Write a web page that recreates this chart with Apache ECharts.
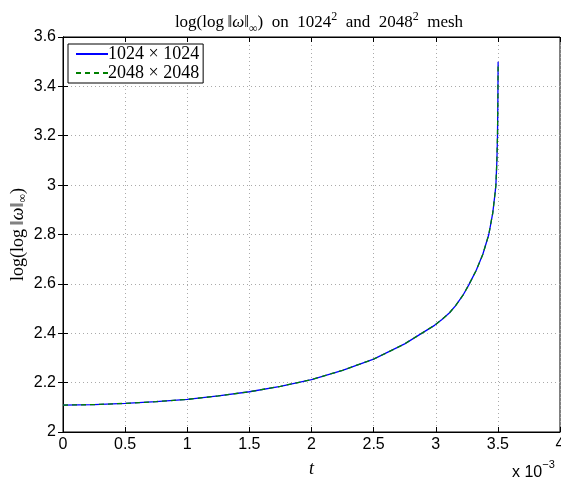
<!DOCTYPE html>
<html>
<head>
<meta charset="utf-8">
<script src="https://cdn.jsdelivr.net/npm/echarts@6/dist/echarts.min.js"></script>
<style>html,body{margin:0;padding:0;background:#fff;}#c{width:561px;height:482px;}</style>
</head>
<body>
<div id="c"></div>
<script>
// t in units of 1e-3
var tValues = [0, 0.25, 0.5, 0.75, 1.0, 1.25, 1.5, 1.75, 2.0, 2.25, 2.5, 2.75, 2.99, 3.05, 3.111, 3.16, 3.218, 3.265, 3.326, 3.379, 3.427, 3.459, 3.478, 3.484, 3.492, 3.497, 3.5, 3.502];
var mesh1024 = [2.109, 2.111, 2.116, 2.123, 2.132, 2.146, 2.163, 2.185, 2.212, 2.25, 2.295, 2.357, 2.432, 2.456, 2.483, 2.512, 2.553, 2.595, 2.655, 2.72, 2.80, 2.888, 2.97, 3.00, 3.10, 3.20, 3.35, 3.50];
var mesh2048 = [2.109, 2.111, 2.116, 2.123, 2.132, 2.146, 2.163, 2.185, 2.212, 2.25, 2.295, 2.357, 2.432, 2.456, 2.483, 2.512, 2.553, 2.595, 2.655, 2.72, 2.80, 2.888, 2.97, 3.00, 3.10, 3.20, 3.35, 3.49];
var seriesNames = ['1024 × 1024', '2048 × 2048'];

function pairs(xs, ys) { return xs.map(function (x, i) { return [x, ys[i]]; }); }

var chart = echarts.init(document.getElementById('c'), null, {renderer: 'canvas'});
var serif = 'Liberation Serif';
var sans = 'Liberation Sans';
var gridStyle = {show: true, lineStyle: {color: '#aaa', type: [1, 3], width: 1}};
function txt(size, extra) {
  var o = {fontFamily: serif, fontSize: size, color: '#000', fontWeight: 'normal'};
  for (var k in extra) o[k] = extra[k];
  return o;
}
chart.setOption({
  animation: false,
  backgroundColor: '#fff',
  title: {
    text: '{a|log(log\u2009‖}{i|ω}{a|‖}{sub|∞}{a|)  on  1024}{sup|2}{a|  and  2048}{sup|2}{a|  mesh}',
    left: 314, textAlign: 'center', top: 6,
    textStyle: {
      fontWeight: 'normal',
      rich: {
        a: txt(17, {lineHeight: 24}),
        i: txt(17, {fontStyle: 'italic', lineHeight: 24}),
        sub: txt(12, {verticalAlign: 'bottom', lineHeight: 24}),
        sup: txt(12, {verticalAlign: 'top', lineHeight: 24})
      }
    }
  },
  legend: {
    left: 68, top: 44, orient: 'vertical',
    data: seriesNames,
    itemWidth: 32, itemHeight: 10, itemGap: 1,
    padding: [1, 4, 1, 7],
    borderColor: '#000', borderWidth: 1, borderRadius: 0,
    backgroundColor: '#fff',
    itemStyle: {opacity: 0},
    textStyle: {fontFamily: serif, fontSize: 18, color: '#000', lineHeight: 12, padding: [0, 0, 0, -5]}
  },
  grid: {left: 63, right: 1, top: 37, bottom: 50, show: true, borderColor: '#000', borderWidth: 1,
         containLabel: false, outerBoundsMode: 'none'},
  xAxis: [{
    type: 'value', min: 0, max: 4, interval: 0.5,
    axisLine: {show: true, lineStyle: {color: '#000', width: 1}},
    axisTick: {show: true, inside: true, length: 5, lineStyle: {color: '#000'}},
    axisLabel: {fontFamily: sans, fontSize: 16, color: '#000', margin: 5},
    splitLine: gridStyle,
    name: 't', nameLocation: 'middle', nameGap: 28, nameMoveOverlap: false,
    nameTextStyle: {fontFamily: serif, fontStyle: 'italic', fontSize: 18, color: '#000'}
  }, {
    type: 'value', min: 0, max: 4, interval: 0.5, position: 'top',
    axisLine: {show: true, lineStyle: {color: '#000'}},
    axisTick: {show: true, inside: true, length: 5, lineStyle: {color: '#000'}},
    axisLabel: {show: false}, splitLine: {show: false}
  }],
  yAxis: [{
    type: 'value', min: 2, max: 3.6, interval: 0.2,
    axisLine: {show: true, lineStyle: {color: '#000', width: 1}},
    axisTick: {show: true, inside: true, length: 5, lineStyle: {color: '#000'}},
    axisLabel: {fontFamily: sans, fontSize: 16, color: '#000', margin: 7,
      formatter: function (v) { return String(Math.round(v * 10) / 10); }},
    splitLine: gridStyle,
    name: '{a|log(log\u2009‖}{i|ω}{a|‖}{sub|∞}{a|)}', nameLocation: 'middle', nameGap: 34, nameRotate: 90,
    nameMoveOverlap: false,
    nameTextStyle: {
      rich: {
        a: txt(18, {lineHeight: 22}),
        i: txt(18, {fontStyle: 'italic', lineHeight: 22}),
        sub: txt(12, {verticalAlign: 'bottom', lineHeight: 22})
      }
    }
  }, {
    type: 'value', min: 2, max: 3.6, interval: 0.2, position: 'right',
    axisLine: {show: true, lineStyle: {color: '#000'}},
    axisTick: {show: true, inside: true, length: 5, lineStyle: {color: '#000'}},
    axisLabel: {show: false}, splitLine: {show: false}
  }],
  graphic: [{
    type: 'text', left: 512, top: 459,
    style: {
      text: '{a|x 10}{s|−3}',
      rich: {
        a: {fontFamily: sans, fontSize: 16, color: '#000', lineHeight: 22, verticalAlign: 'bottom'},
        s: {fontFamily: sans, fontSize: 11, color: '#000', lineHeight: 22, verticalAlign: 'top'}
      }
    }
  }],
  series: [{
    name: seriesNames[0], type: 'line', data: pairs(tValues, mesh1024),
    symbol: 'none', showSymbol: false, smooth: false,
    lineStyle: {color: '#0000ff', width: 1.3, type: 'solid'},
    itemStyle: {color: '#0000ff'}
  }, {
    name: seriesNames[1], type: 'line', data: pairs(tValues, mesh2048),
    symbol: 'none', showSymbol: false, smooth: false,
    lineStyle: {color: '#008000', width: 1.3, type: [5, 4]},
    itemStyle: {color: '#008000'}
  }]
});
</script>
</body>
</html>
